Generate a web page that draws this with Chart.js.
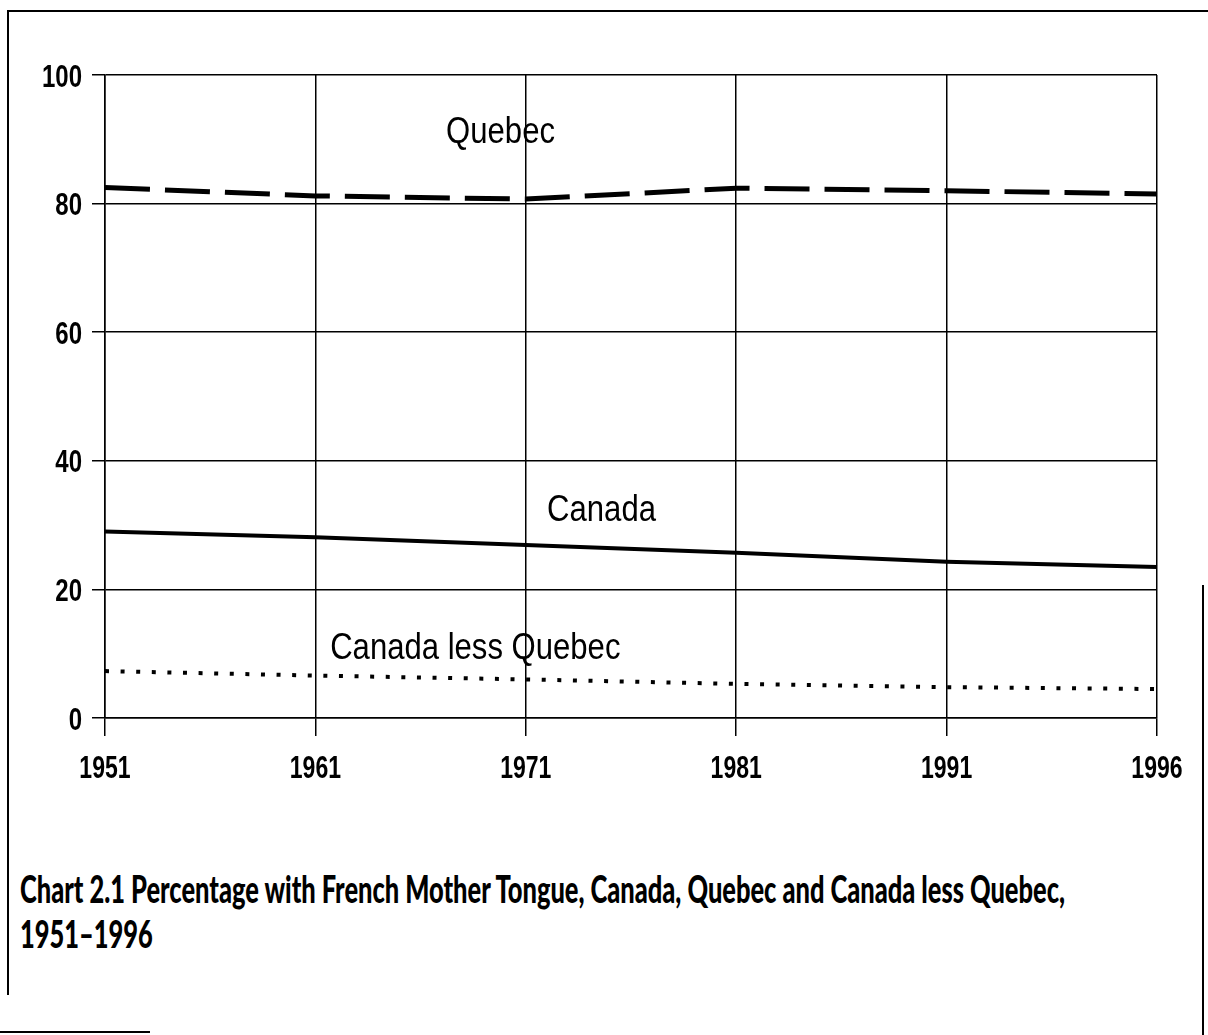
<!DOCTYPE html>
<html>
<head>
<meta charset="utf-8">
<script src="https://cdn.jsdelivr.net/npm/chart.js@4.4.1/dist/chart.umd.min.js"></script>
<style>
  html, body { margin: 0; padding: 0; background: #fff; }
  #page { position: relative; width: 1208px; height: 1035px; overflow: hidden; background: #fff; }
  #chartBox { position: absolute; left: 0; top: 0; width: 1208px; height: 800px; }
  .rule { position: absolute; background: #000; }
  #caption {
    position: absolute; left: 20px; top: 866px;
    font-family: Lato, 'Open Sans', sans-serif;
    font-weight: 900; font-size: 38px; line-height: 45px; color: #000;
    white-space: nowrap; transform-origin: 0 0;
  }
</style>
</head>
<body>
<div id="page">
  <div class="rule" style="left:8px;top:10px;width:1200px;height:2px;"></div>
  <div class="rule" style="left:7px;top:10px;width:2px;height:985px;"></div>
  <div class="rule" style="left:1202px;top:585px;width:2px;height:450px;"></div>
  <div class="rule" style="left:0;top:1031px;width:150px;height:2px;"></div>
  <div id="chartBox"><canvas id="frenchChart"></canvas></div>
  <div id="caption"><span id="capLine1">Chart 2.1 Percentage with French Mother Tongue, Canada, Quebec and Canada less Quebec,</span><br>1951–1996</div>
</div>
<script>
// data
const years = ['1951', '1961', '1971', '1981', '1991', '1996'];
const quebec = [82.5, 81.2, 80.7, 82.4, 82.0, 81.5];
const canada = [29.0, 28.1, 26.9, 25.7, 24.3, 23.5];
const canadaLessQuebec = [7.3, 6.6, 6.0, 5.3, 4.8, 4.5];
const yTicks = [0, 20, 40, 60, 80, 100];

// series names written inside the plot (x = category index, y = value)
const seriesNotes = [
    { text: 'Quebec', x: 1.88, y: 91.5 },
    { text: 'Canada', x: 2.36, y: 32.6 },
    { text: 'Canada less Quebec', x: 1.76, y: 11.2 }
];

// the scan uses a narrow Arial; squeeze Liberation Sans horizontally
function squeezedText(ctx, text, x, y, sx) {
    ctx.save();
    ctx.translate(x, y);
    ctx.scale(sx, 1);
    ctx.fillText(text, 0, 0);
    ctx.restore();
}

const textPlugin = {
    id: 'narrowText',
    afterDatasetsDraw(chart) {
        const ctx = chart.ctx;
        const xs = chart.scales.x, ys = chart.scales.y;
        ctx.save();
        ctx.fillStyle = '#000';
        ctx.textBaseline = 'alphabetic';

        // tick labels
        ctx.font = "bold 32px 'Liberation Sans', Arial, sans-serif";
        ctx.textAlign = 'right';
        ys.ticks.forEach((t, i) => {
            squeezedText(ctx, String(t.value), 82, ys.getPixelForTick(i) + 11.5, 0.75);
        });
        ctx.textAlign = 'center';
        years.forEach((y, i) => {
            squeezedText(ctx, y, xs.getPixelForTick(i), 778, 0.72);
        });

        // series names
        ctx.font = "37px 'Liberation Sans', Arial, sans-serif";
        ctx.textAlign = 'center';
        seriesNotes.forEach(n => {
            squeezedText(ctx, n.text, xs.getPixelForValue(n.x), ys.getPixelForValue(n.y) + 13, 0.84);
        });
        ctx.restore();
    }
};

new Chart(document.getElementById('frenchChart'), {
    type: 'line',
    data: {
        labels: years,
        datasets: [
            { label: 'Quebec', data: quebec, borderColor: '#000', borderWidth: 5, borderDash: [45, 15], borderCapStyle: 'butt' },
            { label: 'Canada', data: canada, borderColor: '#000', borderWidth: 4 },
            { label: 'Canada less Quebec', data: canadaLessQuebec, borderColor: '#000', borderWidth: 4, borderDash: [4, 11.6], borderCapStyle: 'butt' }
        ]
    },
    options: {
        responsive: true,
        maintainAspectRatio: false,
        animation: false,
        layout: { padding: { top: 75, right: 51, left: 0, bottom: 0 } },
        elements: { point: { radius: 0 }, line: { tension: 0 } },
        plugins: { legend: { display: false }, tooltip: { enabled: false } },
        scales: {
            x: {
                offset: false,
                grid: { color: '#000', lineWidth: 1.5, tickLength: 18 },
                border: { color: '#000', width: 1.5 },
                ticks: { display: false },
                afterFit(scale) { scale.height = 82; }
            },
            y: {
                min: 0, max: 100,
                afterBuildTicks(scale) { scale.ticks = yTicks.map(v => ({ value: v })); },
                grid: { color: '#000', lineWidth: 1.5, tickLength: 13 },
                border: { color: '#000', width: 1.5 },
                ticks: { display: false },
                afterFit(scale) { scale.width = 105; }
            }
        }
    },
    plugins: [textPlugin]
});

// squeeze the caption to the width of the printed one
const cap = document.getElementById('caption');
const w = document.getElementById('capLine1').getBoundingClientRect().width;
cap.style.transform = 'scaleX(' + (1045 / w) + ')';
</script>
</body>
</html>
